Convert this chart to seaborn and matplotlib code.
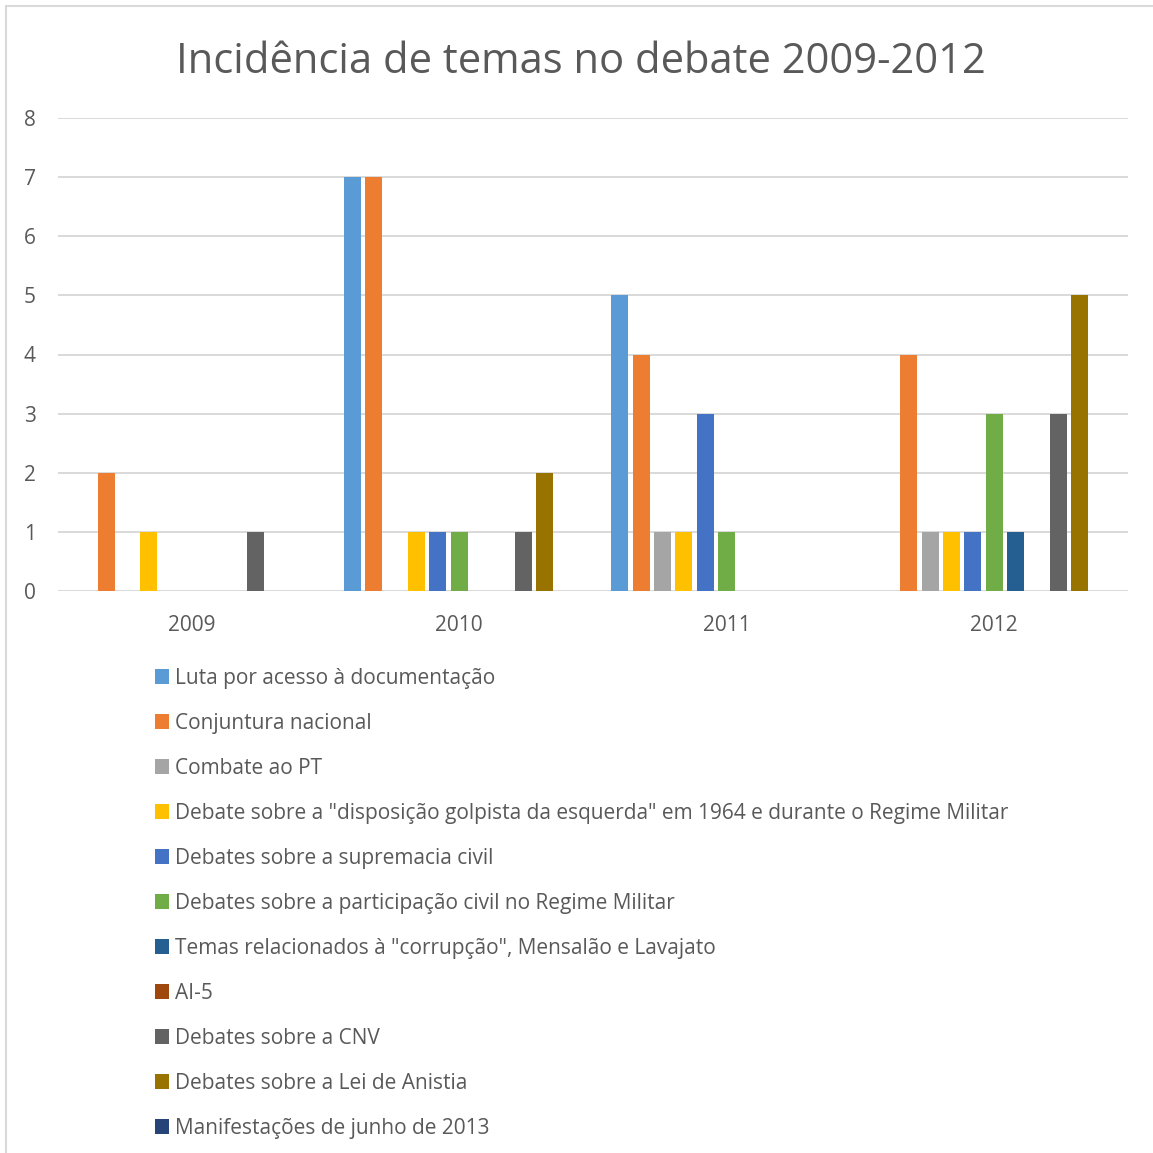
import matplotlib
matplotlib.use("Agg")
import matplotlib.pyplot as plt
from matplotlib.lines import Line2D
import seaborn as sns
import pandas as pd

# Data: number of occurrences of each theme per year
anos = ["2009", "2010", "2011", "2012"]
temas = [
    "Luta por acesso à documentação",
    "Conjuntura nacional",
    "Combate ao PT",
    "Debate sobre a \"disposição golpista da esquerda\" em 1964 e durante o Regime Militar",
    "Debates sobre a supremacia civil",
    "Debates sobre a participação civil no Regime Militar",
    "Temas relacionados à \"corrupção\", Mensalão e Lavajato",
    "AI-5",
    "Debates sobre a CNV",
    "Debates sobre a Lei de Anistia",
    "Manifestações de junho de 2013",
]
luta_documentacao = [0, 7, 5, 0]
conjuntura_nacional = [2, 7, 4, 4]
combate_pt = [0, 0, 1, 1]
disposicao_golpista = [1, 1, 1, 1]
supremacia_civil = [0, 1, 3, 1]
participacao_civil = [0, 1, 1, 3]
corrupcao = [0, 0, 0, 1]
ai5 = [0, 0, 0, 0]
cnv = [1, 1, 0, 3]
lei_anistia = [0, 2, 0, 5]
manifestacoes_2013 = [0, 0, 0, 0]

series = [luta_documentacao, conjuntura_nacional, combate_pt, disposicao_golpista,
          supremacia_civil, participacao_civil, corrupcao, ai5, cnv, lei_anistia,
          manifestacoes_2013]
cores = ["#5B9BD5", "#ED7D31", "#A5A5A5", "#FFC000", "#4472C4", "#70AD47",
         "#255E91", "#9E480E", "#636363", "#997300", "#264478"]

rows = []
for tema, vals in zip(temas, series):
    for ano, v in zip(anos, vals):
        rows.append({"ano": ano, "tema": tema, "valor": v})
df = pd.DataFrame(rows)

sns.set_theme(style="white")
plt.rcParams["font.family"] = ["Open Sans", "DejaVu Sans"]
txt = "#595959"
grid = "#D9D9D9"

W = 1153
fig = plt.figure(figsize=(W / 100, W / 100), dpi=100)
ax = fig.add_axes([58 / W, 1 - 591 / W, (1128 - 58) / W, (591 - 118) / W])

sns.barplot(data=df, x="ano", y="valor", hue="tema", hue_order=temas, order=anos,
            palette=cores, width=0.88, gap=0.21, saturation=1, ax=ax, legend=True,
            edgecolor="none", linewidth=0)

handles, labels = ax.get_legend_handles_labels()
ax.get_legend().remove()

ax.set_xlim(-0.5, 3.5)
ax.set_ylim(0, 8)
ax.set_yticks(range(0, 9))
ax.set_xlabel("")
ax.set_ylabel("")
for s in ax.spines.values():
    s.set_visible(False)
ax.set_axisbelow(True)
ax.yaxis.grid(True, color=grid, linewidth=1.4)
ax.tick_params(axis="y", length=0, pad=16, labelsize=15, labelcolor=txt)
ax.tick_params(axis="x", length=0, pad=17.5, labelsize=15, labelcolor=txt)

fig.text(0.504, 1 - 62 / W, "Incidência de temas no debate 2009-2012",
         ha="center", va="center", fontsize=30, color=txt)

leg = fig.legend(handles, labels, loc="upper left",
                 bbox_to_anchor=(155 / W, 1 - 668 / W), frameon=False,
                 fontsize=15, handlelength=0.65, handleheight=0.7,
                 handletextpad=0.3, labelspacing=1.15, borderpad=0,
                 borderaxespad=0)
for t in leg.get_texts():
    t.set_color(txt)
for h in leg.legend_handles:
    h.set_edgecolor("none")

# Chart frame (left and top edges)
fig.add_artist(Line2D([5.5 / W, 5.5 / W], [0, 1 - 5.5 / W], color=grid, linewidth=1.5))
fig.add_artist(Line2D([5.5 / W, 1], [1 - 5.5 / W, 1 - 5.5 / W], color=grid, linewidth=1.5))

fig.savefig("out.png", dpi=100, facecolor="white")
